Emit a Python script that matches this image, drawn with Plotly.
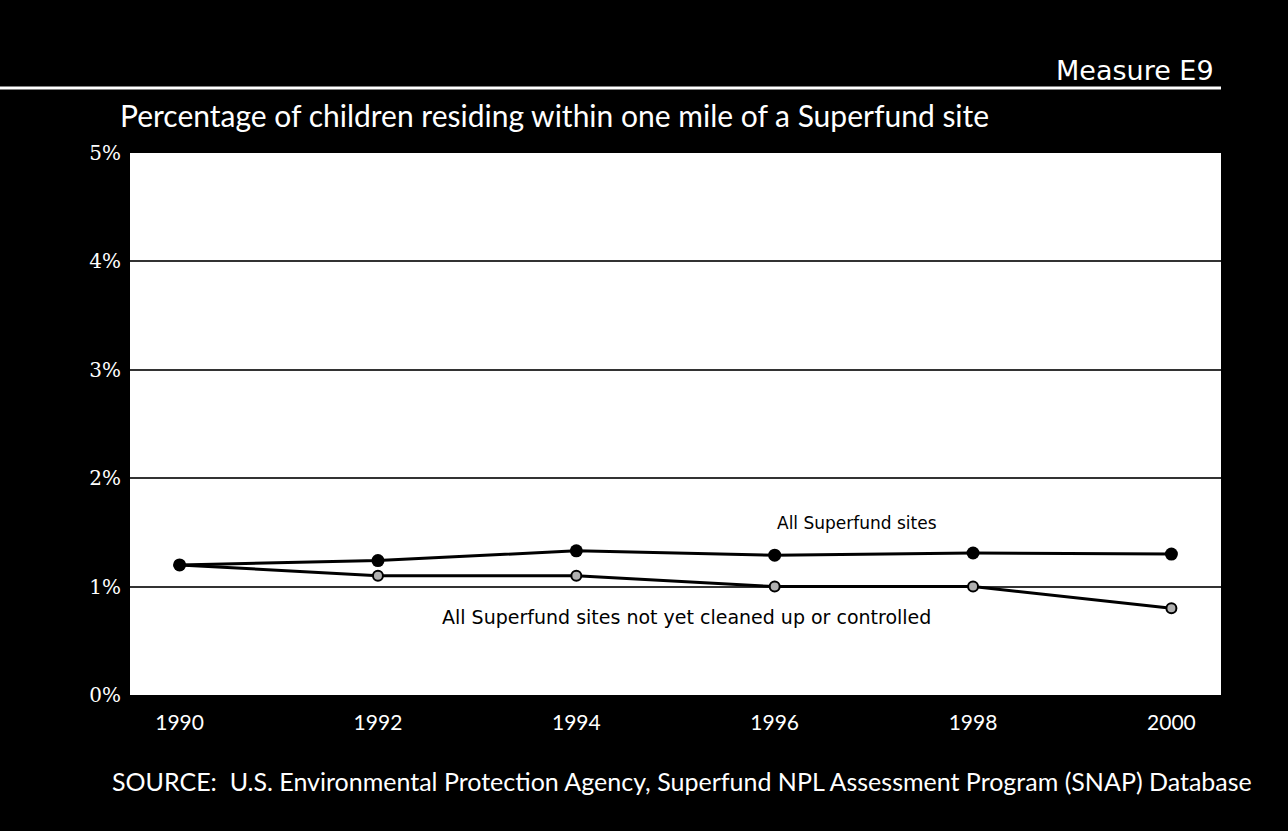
import plotly.graph_objects as go

years = [1990, 1992, 1994, 1996, 1998, 2000]
all_sites = [1.2, 1.24, 1.33, 1.29, 1.31, 1.3]
not_cleaned = [1.2, 1.1, 1.1, 1.0, 1.0, 0.8]
y_ticks = [0, 1, 2, 3, 4, 5]
y_tick_labels = ["0%", "1%", "2%", "3%", "4%", "5%"]

sans = "Lato, 'Open Sans', sans-serif"
gothic = "'DejaVu Sans', sans-serif"
serif = "'DejaVu Serif', 'Liberation Serif', serif"

fig = go.Figure()
fig.add_scatter(
    x=years, y=not_cleaned, mode="lines+markers",
    line=dict(color="black", width=3),
    marker=dict(size=10, color="#b0b0b0", line=dict(color="black", width=2)),
    name="All Superfund sites not yet cleaned up or controlled",
)
fig.add_scatter(
    x=years, y=all_sites, mode="lines+markers",
    line=dict(color="black", width=3),
    marker=dict(size=13, color="black"),
    name="All Superfund sites",
)

# series labels
fig.add_annotation(x=1996.83, y=1.59, text="All Superfund sites", showarrow=False,
                   font=dict(family=gothic, size=17, color="black"))
fig.add_annotation(x=1995.11, y=0.72, text="All Superfund sites not yet cleaned up or controlled",
                   showarrow=False, font=dict(family=gothic, size=19, color="black"))

# header rule and labels
fig.add_shape(type="line", xref="paper", yref="paper", x0=-0.12, x1=1.0, y0=1.12, y1=1.12,
              line=dict(color="white", width=3))
fig.add_annotation(xref="paper", yref="paper", x=0.995, y=1.153, xanchor="right",
                   yanchor="middle", text="Measure E9", showarrow=False,
                   font=dict(family=gothic, size=27, color="white"))
fig.add_annotation(xref="paper", yref="paper", x=-0.011, y=1.07, xanchor="left",
                   yanchor="middle",
                   text="Percentage of children residing within one mile of a Superfund site",
                   showarrow=False, font=dict(family=sans, size=30, color="white"))
fig.add_annotation(xref="paper", yref="paper", x=-0.018, y=-0.159, xanchor="left",
                   yanchor="middle",
                   text="SOURCE:  U.S. Environmental Protection Agency, Superfund NPL Assessment Program (SNAP) Database",
                   showarrow=False, font=dict(family=sans, size=25, color="white"))

fig.update_xaxes(
    range=[1989.5, 2000.5], tickvals=years, showgrid=False, zeroline=False,
    showline=False, ticks="", ticklabelstandoff=13,
    tickfont=dict(family=sans, size=21, color="white"),
)
fig.update_yaxes(
    range=[0, 5], tickvals=y_ticks, ticktext=y_tick_labels, showgrid=True,
    gridcolor="#333", gridwidth=1.5, zeroline=False, showline=False, ticks="",
    ticklabelstandoff=8,
    tickfont=dict(family=serif, size=20, color="white"),
)
fig.update_layout(
    width=1288, height=831,
    margin=dict(l=130, r=67, t=153, b=136),
    paper_bgcolor="black", plot_bgcolor="white",
    showlegend=False,
)
fig.write_html("out.html", config={"displayModeBar": False},
               post_script="document.body.style.margin='0';")
